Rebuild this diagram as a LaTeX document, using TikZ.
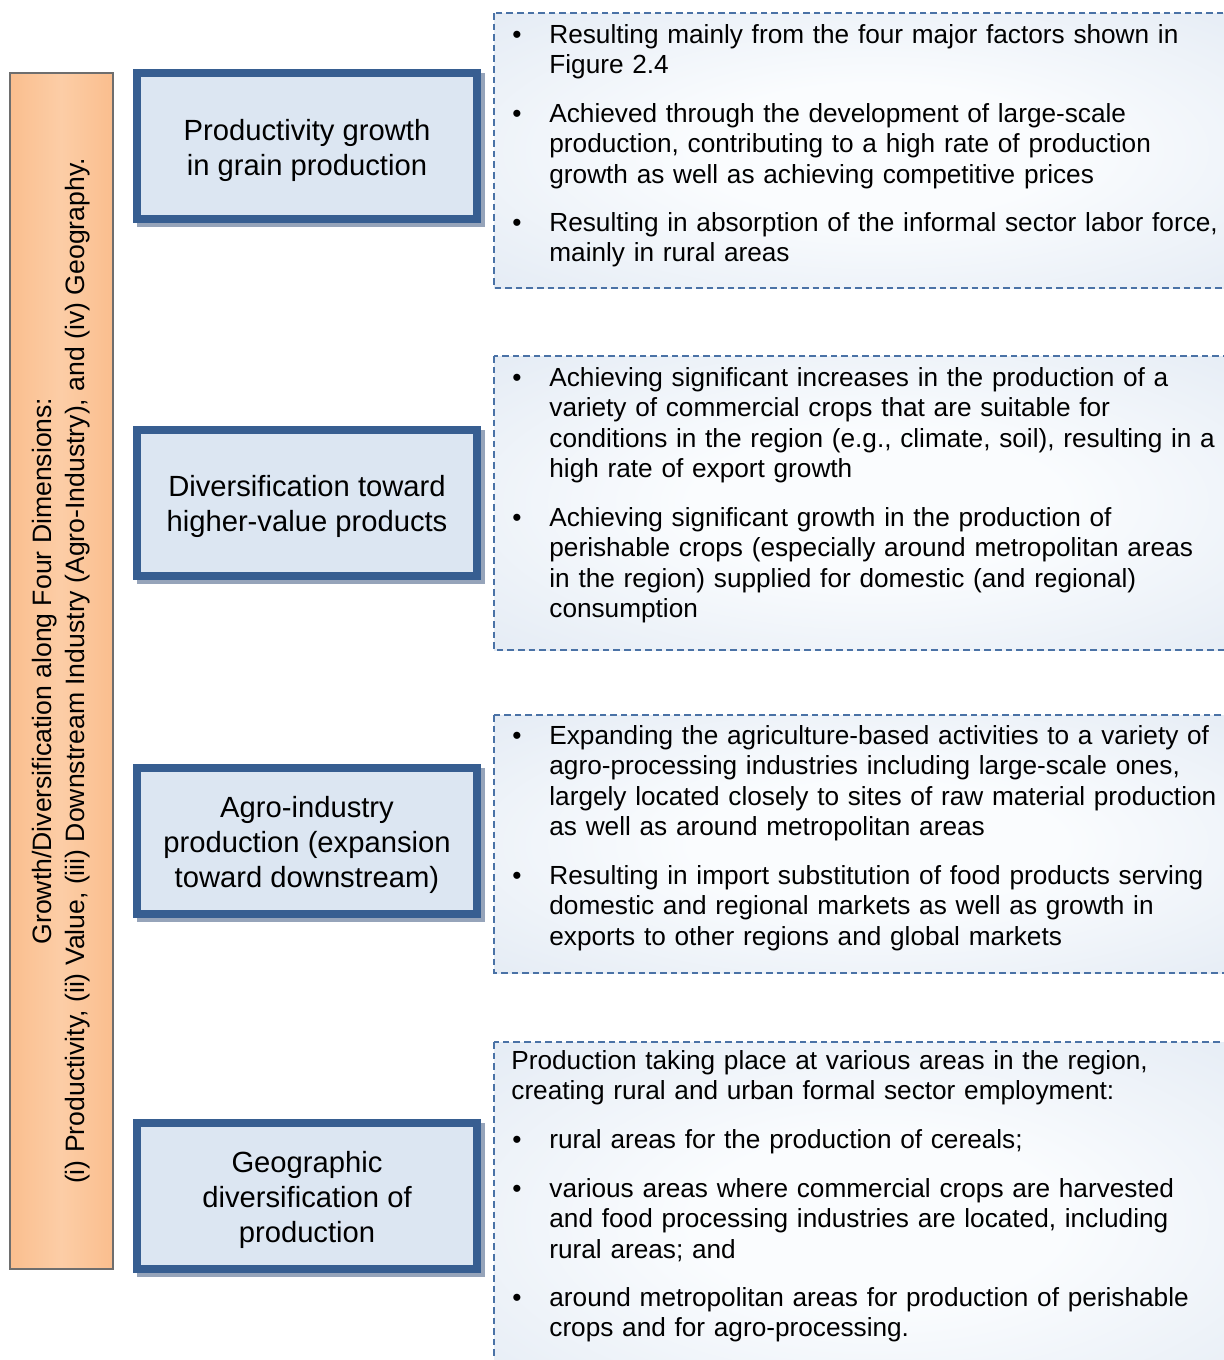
\documentclass[tikz,border=0pt]{standalone}
\usepackage{fontspec}
\setmainfont{Liberation Sans}

% palette
\definecolor{catline}{RGB}{55,94,145}
\definecolor{catfill}{RGB}{220,230,242}
\definecolor{catshadow}{RGB}{150,164,186}
\definecolor{panelline}{RGB}{74,114,166}
\definecolor{glowin}{RGB}{250,252,254}
\definecolor{glowout}{RGB}{216,226,239}
\definecolor{baredge}{RGB}{250,190,142}
\definecolor{barmid}{RGB}{252,205,166}
\definecolor{barline}{RGB}{110,110,110}

% soft glow used to fill the explanation panels
\pgfdeclareradialshading{panelglow}{\pgfpoint{0bp}{0bp}}{%
  color(0bp)=(glowin); color(12bp)=(glowin); color(50bp)=(glowout)}

\begin{document}
\begin{tikzpicture}[x=0.5pt,y=-0.5pt,
  panel/.style={draw=panelline, line width=0.75pt, dash pattern=on 3.3pt off 2pt,
    shade, shading=panelglow},
  catbox/.style={rectangle, draw=catline, line width=4pt, fill=catfill,
    minimum width=170pt, minimum height=73pt, inner sep=0pt,
    preaction={fill=catshadow, draw=catshadow, line width=4pt,
      transform canvas={xshift=2pt, yshift=-2pt}}},
  cattext/.style={inner sep=0pt, align=center,
    font=\fontsize{14.6}{17.5}\selectfont},
  dimbar/.style={rectangle, draw=barline, line width=1pt,
    left color=baredge, right color=baredge, middle color=barmid,
    minimum width=51.5pt, minimum height=598pt, inner sep=0pt},
  bartext/.style={rotate=90, align=center, inner sep=0pt,
    font=\fontsize{13.3}{16.5}\selectfont},
  bul/.style={anchor=base, inner sep=0pt, font=\fontsize{13.1}{15.3}\selectfont},
  itemtext/.style={anchor=base west, inner sep=0pt, text width=345pt, align=left,
    font=\fontsize{13.1}{15.3}\selectfont}
]
\useasboundingbox (0,0) rectangle (1224,1360);
\clip (0,0) rectangle (1224,1360);

% explanation panels (they run past the right and bottom edges)
\path[panel] (494,13) rectangle (1262,288);
\path[panel] (494,356) rectangle (1262,650);
\path[panel] (494,715) rectangle (1262,973);
\path[panel] (494,1042) rectangle (1262,1400);

% vertical heading bar
\node[dimbar] (dim) at (61,671) {};
\node[bartext] (dimtext) at (dim.center)
  {Growth/Diversification along Four Dimensions:\\
   (i) Productivity, (ii) Value, (iii) Downstream Industry (Agro-Industry), and (iv) Geography.};

% the four dimensions
\node[catbox] (c1) at (307,146) {};
\node[catbox] (c2) at (307,502.5) {};
\node[catbox] (c3) at (307,840.5) {};
\node[catbox] (c4) at (307,1195.5) {};
\node[cattext] (c1t) at ([yshift=-2pt]c1.center) {Productivity growth\\in grain production};
\node[cattext] (c2t) at ([yshift=-2pt]c2.center) {Diversification toward\\higher-value products};
\node[cattext] (c3t) at ([yshift=-2pt]c3.center) {Agro-industry\\production (expansion\\toward downstream)};
\node[cattext] (c4t) at ([yshift=-2pt]c4.center) {Geographic\\diversification of\\production};

% panel 1
\node[bul] (b11) at (517,43) {\textbullet};
\node[itemtext] (t11) at (549,43) {Resulting mainly from the four major factors shown in\\Figure 2.4};
\node[bul] (b12) at (517,122) {\textbullet};
\node[itemtext] (t12) at (549,122) {Achieved through the development of large-scale\\production, contributing to a high rate of production\\growth as well as achieving competitive prices};
\node[bul] (b13) at (517,231) {\textbullet};
\node[itemtext] (t13) at (549,231) {Resulting in absorption of the informal sector labor force,\\mainly in rural areas};

% panel 2
\node[bul] (b21) at (517,386) {\textbullet};
\node[itemtext] (t21) at (549,386) {Achieving significant increases in the production of a\\variety of commercial crops that are suitable for\\conditions in the region (e.g., climate, soil), resulting in a\\high rate of export growth};
\node[bul] (b22) at (517,526) {\textbullet};
\node[itemtext] (t22) at (549,526) {Achieving significant growth in the production of\\perishable crops (especially around metropolitan areas\\in the region) supplied for domestic (and regional)\\consumption};

% panel 3
\node[bul] (b31) at (517,744) {\textbullet};
\node[itemtext] (t31) at (549,744) {Expanding the agriculture-based activities to a variety of\\agro-processing industries including large-scale ones,\\largely located closely to sites of raw material production\\as well as around metropolitan areas};
\node[bul] (b32) at (517,884) {\textbullet};
\node[itemtext] (t32) at (549,884) {Resulting in import substitution of food products serving\\domestic and regional markets as well as growth in\\exports to other regions and global markets};

% panel 4
\node[itemtext] (t40) at (511,1069) {Production taking place at various areas in the region,\\creating rural and urban formal sector employment:};
\node[bul] (b41) at (517,1148) {\textbullet};
\node[itemtext] (t41) at (549,1148) {rural areas for the production of cereals;};
\node[bul] (b42) at (517,1197) {\textbullet};
\node[itemtext] (t42) at (549,1197) {various areas where commercial crops are harvested\\and food processing industries are located, including\\rural areas; and};
\node[bul] (b43) at (517,1306) {\textbullet};
\node[itemtext] (t43) at (549,1306) {around metropolitan areas for production of perishable\\crops and for agro-processing.};
\end{tikzpicture}
\end{document}
